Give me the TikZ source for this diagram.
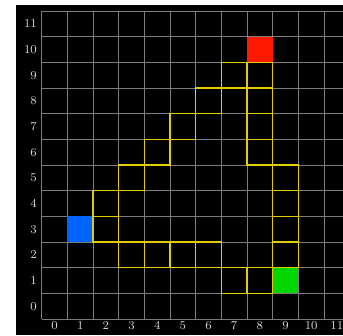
\documentclass[tikz,border=0pt]{standalone}
\usepackage{xcolor}
\usepackage{tikz}
\definecolor{gridline}{RGB}{125,125,125}
\definecolor{labeltext}{RGB}{215,215,215}
\definecolor{pathline}{RGB}{225,205,0}
\definecolor{startcell}{RGB}{0,100,255}
\definecolor{goalcell}{RGB}{255,25,0}
\definecolor{endcell}{RGB}{0,215,0}

\begin{document}
\begin{tikzpicture}[
    x=0.6cm, y=0.6cm,
    font=\footnotesize,
    gridrule/.style={draw=gridline, line width=0.4pt},
    pathcell/.style={draw=pathline, line width=0.85pt},
    numlabel/.style={text=labeltext, inner sep=1pt}
  ]
    \useasboundingbox (-1.625,-0.623) rectangle (11.74,12.43);
    \fill[black] (-1.0,-0.623) rectangle (11.74,12.23);
    % grid
    \foreach \i in {0,...,11}
      \draw[gridrule] (\i,0) -- (\i,12);
    \foreach \j in {0,...,12}
      \draw[gridrule] (0,\j) -- (11.74,\j);
    % axis numbers
    \foreach \i in {0,...,11} {
      \node[numlabel] (xl\i) at (\i+0.5,-0.25) {\i};
      \node[numlabel, anchor=east] (yl\i) at (-0.12,\i+0.5) {\i};
    }
    % coloured cells
    \fill[startcell] (1,3) rectangle ++(1,1);
    \fill[goalcell] (8,10) rectangle ++(1,1);
    \fill[endcell] (9,1) rectangle ++(1,1);
    % path cells
    \foreach \x/\y in {7/9, 8/9, 6/8, 8/8, 5/7, 8/7, 4/6, 8/6, 3/5, 9/5,
                       2/4, 9/4, 2/3, 9/3, 3/2, 4/2, 5/2, 6/2, 9/2, 7/1, 8/1}
      \draw[pathcell] (\x,\y) rectangle ++(1,1);
  \end{tikzpicture}
\end{document}
